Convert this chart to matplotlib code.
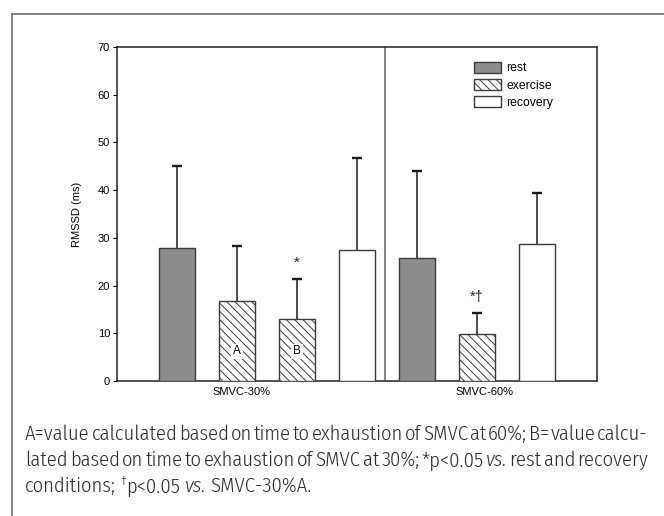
import numpy as np
import matplotlib
matplotlib.use('Agg')
import matplotlib.pyplot as plt
from matplotlib.patches import Patch
from matplotlib.lines import Line2D

# values
labels = ['rest', 'exercise A', 'exercise B', 'recovery',
          'rest', 'exercise', 'recovery']
means = [27.8, 16.7, 12.9, 27.5, 25.7, 9.9, 28.8]
tops = [45.0, 28.3, 21.4, 46.7, 44.1, 14.2, 39.5]
kinds = ['rest', 'exercise', 'exercise', 'recovery',
         'rest', 'exercise', 'recovery']
groups = ['SMVC-30%', 'SMVC-60%']
inner = {1: 'A', 2: 'B'}
marks = {2: '*', 5: '*\u2020'}

W, H = 664, 516
plt.rcParams['font.family'] = ['Liberation Sans', 'DejaVu Sans']
plt.rcParams['hatch.linewidth'] = 0.7
fig = plt.figure(figsize=(W / 100, H / 100), dpi=100)

def fx(px):
    return px / W

def fy(py):
    return 1 - py / H

ax = fig.add_axes([fx(117), fy(381), fx(597) - fx(117), fy(47) - fy(381)])

style = {'rest': dict(facecolor='#8c8c8c', hatch=None),
         'exercise': dict(facecolor='white', hatch='\\\\\\\\'),
         'recovery': dict(facecolor='white', hatch=None)}

x = np.arange(len(means))
for i in x:
    ax.bar(x[i], means[i], width=0.6, edgecolor='#3a3a3a', linewidth=1.0,
           zorder=3, **style[kinds[i]])
# upper error bars only
ax.vlines(x, means, tops, color='#1a1a1a', linewidth=1.1, zorder=2)
ax.plot(x, tops, ls='none', marker='_', ms=7, mew=1.7, color='#1a1a1a', zorder=2)

for i, t in inner.items():
    ax.text(x[i], 6.2, t, ha='center', va='center', fontsize=8.5,
            bbox=dict(facecolor='white', edgecolor='none', pad=1.2), zorder=4)
for i, t in marks.items():
    ax.text(x[i], tops[i] + 3.3, t, ha='center', va='center', fontsize=10.5,
            color='#222222')

ax.axvline(3.47, color='#666666', linewidth=1.1)
ax.set_xlim(-1, 7)
ax.set_ylim(0, 70)
ax.set_yticks(range(0, 71, 10))
ax.set_xticks([1.07, 5.13])
ax.set_xticklabels(groups)
ax.tick_params(axis='x', length=0, pad=4, labelsize=8)
ax.tick_params(axis='y', length=3, width=0.8, pad=2, labelsize=8)
for s in ax.spines.values():
    s.set_linewidth(1.1)
    s.set_color('#222222')
ax.set_ylabel('RMSSD (ms)', fontsize=8, labelpad=11)

handles = [Patch(facecolor='#8c8c8c', edgecolor='#3a3a3a'),
           Patch(facecolor='white', edgecolor='#3a3a3a', hatch='\\\\\\\\'),
           Patch(facecolor='white', edgecolor='#3a3a3a')]
ax.legend(handles, ['rest', 'exercise', 'recovery'], loc='upper left',
          bbox_to_anchor=(fx(474), fy(62)), bbox_transform=fig.transFigure,
          frameon=False, fontsize=8.8, handlelength=2.2, handleheight=0.95,
          handletextpad=0.45, labelspacing=0.38, borderpad=0, borderaxespad=0)

# outer frame (top and left only)
fig.add_artist(Line2D([fx(12), 1], [fy(14), fy(14)], color='#777777', linewidth=1.3))
fig.add_artist(Line2D([fx(12), fx(12)], [fy(14), 0], color='#777777', linewidth=1.3))

# caption, justified
cap_font = ['Fira Sans Condensed', 'Liberation Sans', 'DejaVu Sans']
cap_size = 14.8
cap_lines = [
    [[('A=value', 'n')], [('calculated', 'n')], [('based', 'n')], [('on', 'n')],
     [('time', 'n')], [('to', 'n')], [('exhaustion', 'n')], [('of', 'n')],
     [('SMVC', 'n')], [('at', 'n')], [('60%;', 'n')], [('B=', 'n')],
     [('value', 'n')], [('calcu-', 'n')]],
    [[('lated', 'n')], [('based', 'n')], [('on', 'n')], [('time', 'n')],
     [('to', 'n')], [('exhaustion', 'n')], [('of', 'n')], [('SMVC', 'n')],
     [('at', 'n')], [('30%;', 'n')], [('*p<0.05', 'n')], [('vs.', 'i')],
     [('rest', 'n')], [('and', 'n')], [('recovery', 'n')]],
    [[('conditions;', 'n')], [('\u2020', 's'), ('p<0.05', 'n')], [('vs.', 'i')],
     [('SMVC-30%A.', 'n')]],
]
cap_base = [440, 466, 492]
cap_left, cap_right = 25, 648

fig.canvas.draw()
rend = fig.canvas.get_renderer()

def make(t, kind, xp, yp):
    kw = dict(fontsize=cap_size, family=cap_font, weight=300, color='#2a2a2a',
              va='baseline', ha='left')
    if kind == 'i':
        kw['style'] = 'italic'
    if kind == 's':
        kw['fontsize'] = cap_size * 0.6
        yp -= 7
    return fig.text(fx(xp), fy(yp), t, **kw)

for li, words in enumerate(cap_lines):
    pieces = []
    total = 0
    for w in words:
        ws = []
        for t, k in w:
            a = make(t, k, 0, cap_base[li])
            wd = a.get_window_extent(rend).width
            ws.append((a, wd))
            total += wd
        pieces.append(ws)
    if li < len(cap_lines) - 1:
        gap = (cap_right - cap_left - total) / (len(words) - 1)
    else:
        gap = 4.5
    xp = cap_left
    for ws in pieces:
        for a, wd in ws:
            a.set_x(fx(xp))
            xp += wd
        xp += gap

fig.savefig('out.png', dpi=100)
